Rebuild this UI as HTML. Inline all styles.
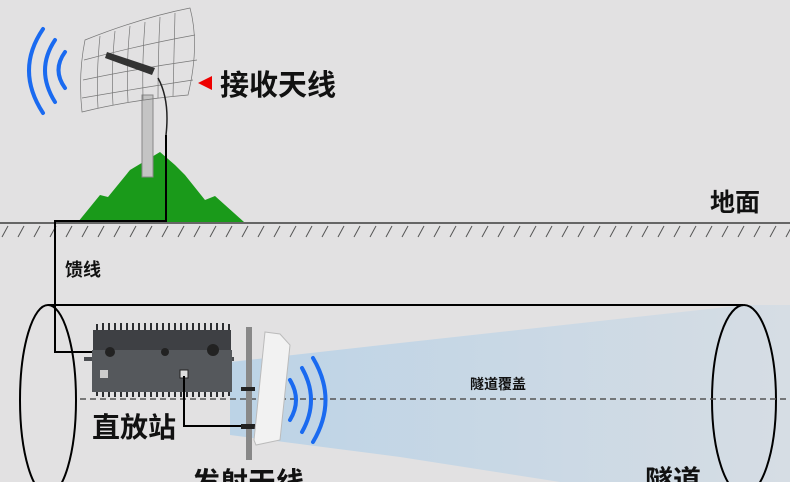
<!DOCTYPE html>
<html><head><meta charset="utf-8"><style>
body{margin:0;background:#e2e1e2}
svg{display:block}
text{font-family:"Liberation Sans","Noto Sans CJK SC",sans-serif;font-weight:bold;fill:#111}
</style></head><body>
<svg width="790" height="482" viewBox="0 0 790 482" xmlns="http://www.w3.org/2000/svg">
<defs>
<linearGradient id="bg" x1="0" x2="1" y1="0" y2="0"><stop offset="0" stop-color="#bcd3e6"/><stop offset="1" stop-color="#d6dde4"/></linearGradient>
<pattern id="h" width="16" height="14" patternUnits="userSpaceOnUse"><line x1="2" y1="13" x2="8" y2="2" stroke="#555" stroke-width="1"/></pattern>
</defs>
<rect width="790" height="482" fill="#e2e1e2"/>
<!-- beam -->
<polygon points="230,362 400,343 745,305 790,305 790,482 560,482 400,457 230,435" fill="url(#bg)"/>
<!-- ground -->
<rect x="0" y="224" width="790" height="14" fill="url(#h)"/>
<line x1="0" y1="223" x2="790" y2="223" stroke="#666" stroke-width="2"/>
<!-- mountain -->
<path d="M78,222 L100,195 L108,197 L130,170 L160,152 L175,165 L185,175 L205,200 L215,196 L244,222 Z" fill="#1a9a1a"/>
<!-- pole -->
<rect x="142" y="95" width="11" height="82" fill="#c4c4c4" stroke="#888"/>
<!-- dish grid -->
<g stroke="#777" fill="none" stroke-width="0.7">
<path d="M85,40 Q140,18 190,8 Q200,45 188,95 Q130,100 82,112 Q78,75 85,40Z"/>
<path d="M84,60 Q140,45 195,35"/><path d="M83,80 Q140,68 197,60"/><path d="M82,98 Q140,88 193,80"/>
<path d="M100,36 Q96,75 98,108"/><path d="M115,31 Q111,70 113,105"/><path d="M130,26 Q126,65 128,102"/><path d="M145,22 Q142,60 143,100"/><path d="M160,17 Q158,55 158,98"/><path d="M175,13 Q174,52 173,96"/>
</g>
<polygon points="107,52 155,68 152,75 105,58" fill="#333"/>
<path d="M158,78 Q170,100 166,135" stroke="#222" stroke-width="1.5" fill="none"/>
<!-- left waves -->
<g stroke="#1a6af0" stroke-width="4" fill="none" stroke-linecap="round">
<path d="M65,52 Q52,70 65,88"/><path d="M55,40 Q35,70 55,102"/><path d="M43,29 Q15,70 43,113"/>
</g>
<polygon points="198,83 212,76 212,90" fill="#e00"/>
<text x="220" y="95" font-size="29">接收天线</text>
<text x="710" y="211" font-size="25">地面</text>
<!-- feeder -->
<polyline points="166,135 166,221 55,221 55,352 165,352" stroke="#000" stroke-width="2" fill="none"/>
<text x="65" y="276" font-size="18">馈线</text>
<!-- tunnel -->
<line x1="48" y1="305" x2="743" y2="305" stroke="#000" stroke-width="2"/>
<ellipse cx="48" cy="400" rx="28" ry="95" fill="none" stroke="#000" stroke-width="2"/>
<ellipse cx="744" cy="400" rx="32" ry="95" fill="none" stroke="#000" stroke-width="2"/>
<line x1="80" y1="399" x2="790" y2="399" stroke="#555" stroke-width="1.5" stroke-dasharray="6,4"/>
<text x="470" y="389" font-size="14">隧道覆盖</text>
<!-- repeater -->
<g>
<rect x="93" y="330" width="138" height="20" fill="#3e4044"/>
<g stroke="#2c2e31" stroke-width="2"><path d="M97,330v-6M103,330v-7M109,330v-7M115,330v-7M121,330v-7M127,330v-7M133,330v-7M139,330v-7M145,330v-7M151,330v-7M157,330v-7M163,330v-7M169,330v-7M175,330v-7M181,330v-7M187,330v-7M193,330v-7M199,330v-7M205,330v-7M211,330v-7M217,330v-7M223,330v-7M229,330v-6"/>
<path d="M97,390v6M103,390v7M109,390v7M115,390v7M121,390v7M127,390v7M133,390v7M139,390v7M145,390v7M151,390v7M157,390v7M163,390v7M169,390v7M175,390v7M181,390v7M187,390v7M193,390v7M199,390v7M205,390v7M211,390v7M217,390v7M223,390v7M229,390v6"/></g>
<rect x="84" y="357" width="150" height="4" fill="#4a4c50"/>
<rect x="92" y="350" width="140" height="42" fill="#55585c"/>
<rect x="100" y="370" width="8" height="8" fill="#ccc"/>
<circle cx="110" cy="352" r="5" fill="#222"/><circle cx="165" cy="352" r="4" fill="#222"/><circle cx="213" cy="350" r="6" fill="#222"/>
<rect x="180" y="370" width="8" height="8" fill="#ddd" stroke="#222"/>
</g>
<polyline points="184,376 184,426 246,426" stroke="#000" stroke-width="2" fill="none"/>
<!-- panel antenna -->
<rect x="246" y="327" width="6" height="133" fill="#888"/>
<rect x="241" y="387" width="14" height="4" fill="#222"/><rect x="241" y="424" width="14" height="5" fill="#222"/>
<polygon points="265,332 280,334 290,345 280,440 256,445 254,440" fill="#f2f2f2" stroke="#bbb"/>
<g stroke="#1a6af0" stroke-width="4" fill="none" stroke-linecap="round">
<path d="M290,380 Q302,400 290,420"/><path d="M302,368 Q320,400 302,432"/><path d="M313,358 Q338,400 313,442"/>
</g>
<text x="92" y="437" font-size="28">直放站</text>
<text x="192" y="492" font-size="28">发射天线</text>
<text x="645" y="490" font-size="28">隧道</text>
</svg>
</body></html>
